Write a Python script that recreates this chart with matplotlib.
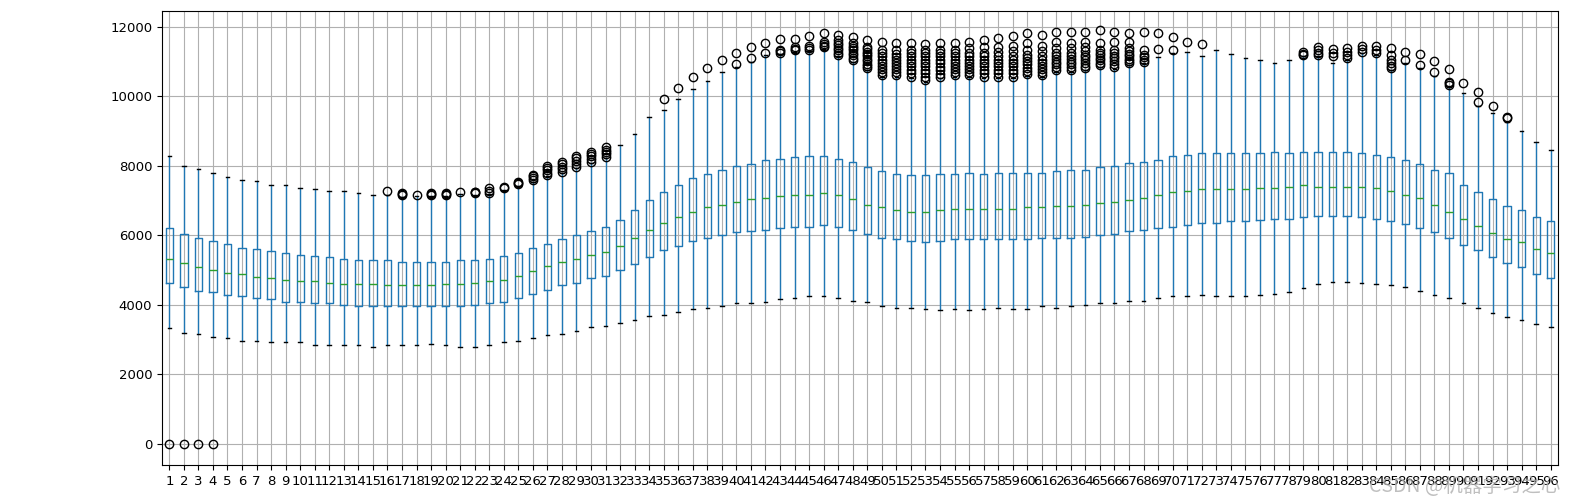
import numpy as np
import matplotlib.pyplot as plt

# ------------------------------------------------------------
# Box statistics for the 96 time slots
# ------------------------------------------------------------

labels = [str(i) for i in range(1, 97)]

q1 = [4639, 4524, 4400, 4361, 4284, 4246, 4198, 4160, 4083, 4083, 4045, 4045,
      4007, 3968, 3968, 3968, 3968, 3968, 3968, 3968, 3968, 4007, 4045, 4083,
      4198, 4323, 4438, 4562, 4639, 4764, 4840, 5003, 5166, 5368, 5569, 5684,
      5847, 5924, 6000, 6086, 6125, 6163, 6201, 6240, 6240, 6288, 6240, 6163,
      6039, 5924, 5885, 5847, 5799, 5847, 5885, 5885, 5885, 5885, 5885, 5885,
      5924, 5924, 5924, 5962, 6000, 6039, 6125, 6163, 6201, 6240, 6288, 6364,
      6364, 6403, 6403, 6441, 6479, 6479, 6518, 6556, 6556, 6556, 6518, 6479,
      6403, 6326, 6201, 6086, 5924, 5722, 5569, 5368, 5195, 5080, 4879, 4764]

med = [5329, 5205, 5080, 5003, 4927, 4888, 4802, 4764, 4725, 4687, 4687, 4639,
       4601, 4601, 4601, 4562, 4562, 4562, 4562, 4601, 4601, 4639, 4687, 4725,
       4840, 4965, 5128, 5243, 5329, 5444, 5521, 5684, 5924, 6163, 6364, 6527,
       6681, 6805, 6882, 6968, 7045, 7083, 7122, 7160, 7160, 7208, 7160, 7045,
       6882, 6805, 6719, 6681, 6681, 6719, 6767, 6767, 6767, 6767, 6767, 6805,
       6805, 6844, 6844, 6882, 6920, 6968, 7007, 7083, 7160, 7246, 7285, 7323,
       7323, 7323, 7323, 7361, 7361, 7400, 7448, 7400, 7400, 7400, 7400, 7361,
       7285, 7160, 7083, 6882, 6681, 6479, 6278, 6077, 5885, 5799, 5598, 5483]

q3 = [6201, 6039, 5924, 5847, 5761, 5646, 5607, 5559, 5483, 5444, 5406, 5368,
      5329, 5281, 5281, 5281, 5243, 5243, 5243, 5243, 5281, 5281, 5329, 5406,
      5483, 5646, 5761, 5885, 6000, 6125, 6240, 6441, 6719, 7007, 7246, 7448,
      7639, 7764, 7879, 8003, 8042, 8166, 8205, 8243, 8281, 8281, 8205, 8118,
      7965, 7840, 7764, 7726, 7726, 7764, 7764, 7802, 7764, 7802, 7802, 7802,
      7802, 7840, 7879, 7879, 7965, 8003, 8080, 8118, 8166, 8281, 8320, 8358,
      8358, 8358, 8358, 8358, 8396, 8358, 8396, 8396, 8396, 8396, 8358, 8320,
      8243, 8166, 8042, 7879, 7783, 7448, 7246, 7045, 6844, 6719, 6518, 6403]

whislo = [3326, 3201, 3163, 3086, 3038, 2962, 2962, 2923, 2923, 2923, 2847, 2847,
          2847, 2847, 2799, 2847, 2847, 2847, 2885, 2847, 2799, 2799, 2847, 2923,
          2962, 3038, 3125, 3163, 3240, 3364, 3403, 3479, 3566, 3681, 3719, 3805,
          3882, 3920, 3968, 4045, 4045, 4083, 4160, 4208, 4246, 4246, 4208, 4122,
          4083, 3968, 3920, 3920, 3882, 3843, 3882, 3843, 3882, 3920, 3882, 3882,
          3968, 3920, 3968, 4007, 4045, 4045, 4122, 4122, 4208, 4246, 4246, 4285,
          4246, 4246, 4246, 4285, 4323, 4361, 4486, 4601, 4668, 4668, 4639, 4601,
          4562, 4524, 4400, 4285, 4208, 4045, 3920, 3757, 3642, 3566, 3441, 3364]

whishi = [8291, 8003, 7917, 7802, 7678, 7601, 7563, 7448, 7448, 7361, 7323, 7285,
          7285, 7208, 7160, 7150, 7100, 7120, 7130, 7130, 7180, 7170, 7180, 7320,
          7420, 7550, 7700, 7800, 7950, 8080, 8230, 8598, 8924, 9403, 9604, 9920,
          10208, 10448, 10687, 10850, 11000, 11186, 11220, 11280, 11300, 11370, 11150, 11000,
          10750, 10560, 10560, 10520, 10420, 10520, 10560, 10560, 10520, 10520, 10520, 10600,
          10560, 10700, 10700, 10750, 10850, 10800, 10900, 10950, 11119, 11234, 11282, 11167,
          11330, 11214, 11090, 11042, 10965, 11042, 11150, 11150, 10946, 11060, 11250, 11200,
          10754, 10946, 10802, 10582, 10256, 10083, 9719, 9508, 9269, 9000, 8684, 8444]

fliers = [
    [0], [0], [0], [0], [], [], [], [], [], [], [], [],
    [], [], [], [7285], [7160, 7190, 7210], [7160], [7170, 7200, 7220],
    [7170, 7200, 7230], [7246], [7210, 7240, 7260], [7230, 7290, 7352],
    [7360, 7390], [7476, 7510, 7544], [7591, 7650, 7700, 7735],
    [7735, 7800, 7870, 7940, 7994], [7831, 7900, 7980, 8050, 8118],
    [7975, 8050, 8150, 8230, 8282], [8118, 8200, 8280, 8350, 8406],
    [8262, 8330, 8400, 8470, 8531], [], [], [], [9920], [10246],
    [10563], [10802], [11042], [10927, 11253], [11090, 11406], [11253, 11531],
    [11253, 11300, 11330, 11646], [11330, 11370, 11406, 11646],
    [11330, 11380, 11454, 11732], [11406, 11450, 11510, 11569, 11809],
    [11186, 11250, 11320, 11400, 11470, 11540, 11617, 11770],
    [11042, 11110, 11180, 11250, 11320, 11390, 11460, 11521, 11694],
    [10802, 10870, 10940, 11010, 11080, 11150, 11220, 11290, 11360, 11425, 11617],
    [10611, 10700, 10790, 10880, 10970, 11060, 11150, 11240, 11330, 11569],
    [10611, 10690, 10780, 10870, 10960, 11050, 11140, 11230, 11330, 11521],
    [10563, 10660, 10760, 10860, 10960, 11060, 11160, 11250, 11330, 11521],
    [10467, 10560, 10660, 10760, 10860, 10960, 11060, 11160, 11250, 11330, 11500],
    [10563, 10650, 10750, 10850, 10950, 11050, 11150, 11240, 11330, 11521],
    [10611, 10700, 10790, 10880, 10970, 11060, 11150, 11240, 11330, 11521],
    [10611, 10700, 10790, 10880, 10970, 11060, 11150, 11240, 11380, 11569],
    [10563, 10660, 10760, 10860, 10960, 11060, 11160, 11260, 11425, 11617],
    [10563, 10660, 10760, 10860, 10960, 11060, 11160, 11280, 11425, 11684],
    [10563, 10660, 10760, 10860, 10960, 11060, 11160, 11300, 11454, 11732],
    [10650, 10740, 10830, 10920, 11010, 11100, 11200, 11330, 11521, 11809],
    [10611, 10700, 10790, 10880, 10970, 11060, 11160, 11300, 11454, 11770],
    [10754, 10840, 10920, 11000, 11080, 11160, 11250, 11380, 11569, 11847],
    [10754, 10840, 10920, 11000, 11080, 11160, 11250, 11380, 11521, 11847],
    [10802, 10880, 10960, 11040, 11120, 11200, 11300, 11420, 11569, 11847],
    [10898, 10970, 11040, 11110, 11180, 11250, 11330, 11521, 11905],
    [10850, 10930, 11010, 11090, 11170, 11250, 11330, 11569, 11857],
    [10946, 11010, 11080, 11150, 11220, 11300, 11400, 11569, 11828],
    [10994, 11060, 11130, 11200, 11330, 11847],
    [11349, 11809], [11330, 11694], [11569], [11493],
    [], [], [], [], [], [],
    [11186, 11230, 11282], [11186, 11260, 11330, 11425],
    [11157, 11250, 11349], [11090, 11200, 11290, 11378],
    [11282, 11370, 11454], [11234, 11340, 11454],
    [10802, 10880, 10950, 11050, 11200, 11378], [11042, 11282],
    [10898, 11214], [10706, 11013], [10323, 10371, 10419, 10773],
    [10371], [9844, 10131], [9719], [9380, 9412], [], [], [],
]

# ------------------------------------------------------------
# Plot
# ------------------------------------------------------------

stats = []
for i in range(len(labels)):
    stats.append({"label": labels[i], "q1": q1[i], "med": med[i], "q3": q3[i],
                  "whislo": whislo[i], "whishi": whishi[i], "fliers": fliers[i]})

fig = plt.figure(figsize=(15.78, 5.04), dpi=100)
ax = fig.add_axes([0.1027, 0.0774, 0.8846, 0.9006])

ax.bxp(stats,
       boxprops=dict(color="#1f77b4"),
       whiskerprops=dict(color="#1f77b4"),
       medianprops=dict(color="#2ca02c"),
       capprops=dict(color="k"),
       flierprops=dict(marker="o", markeredgecolor="k", markerfacecolor="none", markersize=6))

ax.set_xlim(0.5, 96.5)
ax.set_ylim(-604, 12453)
ax.grid(True)
ax.tick_params(labelsize=9.5)

# watermark
fig.text(0.928, 0.035, "CSDN @机器学习之心", fontsize=14, color="#b0b0b0", alpha=0.8,
         ha="center", va="center", family=["Noto Sans CJK SC", "DejaVu Sans"])

fig.savefig("out.png", dpi=100)
